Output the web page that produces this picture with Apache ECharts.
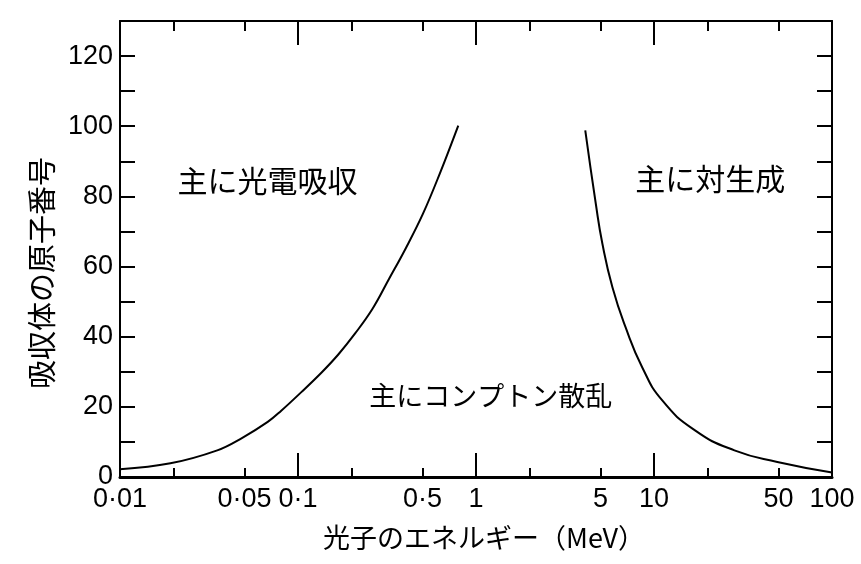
<!DOCTYPE html>
<html>
<head>
<meta charset="utf-8">
<script src="https://cdn.jsdelivr.net/npm/echarts@6/dist/echarts.min.js"></script>
<style>
html,body{margin:0;padding:0;background:#fff;}
#chart{width:861px;height:564px;}
</style>
</head>
<body>
<div id="chart"></div>
<script>
// ---- data ----
const photoComptonE = [0.01, 0.0192, 0.0352, 0.0484, 0.0676, 0.0805, 0.1044, 0.1357, 0.1689, 0.2099, 0.2612, 0.325, 0.404, 0.503, 0.626, 0.795];
const photoComptonZ = [2.2, 3.9, 7.6, 11.1, 15.7, 18.9, 24.2, 29.8, 35.0, 41.0, 47.8, 56.5, 65.3, 75.0, 86.5, 100.2];
const comptonPairE = [4.11, 4.71, 5.13, 5.84, 6.92, 8.58, 11.1, 17.0, 28.3, 49.3, 100];
const comptonPairZ = [98.8, 77.9, 66.5, 54.1, 42.7, 31.3, 21.9, 13.3, 7.6, 4.3, 1.3];
const xTickValues = [0.01, 0.05, 0.1, 0.5, 1, 5, 10, 50, 100];
const xTickLabels = ['0·01', '0·05', '0·1', '0·5', '1', '5', '10', '50', '100'];
const xMajorTicks = [0.01, 0.1, 1, 10, 100];
const xMinorTicks = [0.02, 0.05, 0.2, 0.5, 2, 5, 20, 50];
const regionNames = ['主に光電吸収', '主にコンプトン散乱', '主に対生成'];
const regionE = [0.0675, 1.21, 20.7];
const regionZ = [84.5, 23.3, 85.1];
const xName = '光子のエネルギー（MeV）';
const yName = '吸収体の原子番号';

// ---- chart ----
const numFont = "'Liberation Sans Narrow', 'Liberation Sans', Arial, sans-serif";
const cjkFont = "'Noto Sans CJK JP', sans-serif";
const black = '#000';
const lg = v => Math.log10(v);

function decoAxis(pos, ticks, len, withLabels, lineW) {
  return {
    type: 'value', min: -2, max: 2, position: pos, gridIndex: 0,
    axisLine: { show: lineW > 0, onZero: false, lineStyle: { color: black, width: lineW } },
    axisTick: { show: true, inside: true, length: len, customValues: ticks.map(lg), lineStyle: { color: black, width: 2 } },
    axisLabel: withLabels ? {
      show: true, customValues: xTickValues.map(lg), margin: 9,
      fontFamily: numFont, fontSize: 27, color: black,
      formatter: function (v) {
        for (let i = 0; i < xTickValues.length; i++) {
          if (Math.abs(lg(xTickValues[i]) - v) < 1e-6) return xTickLabels[i];
        }
        return '';
      }
    } : { show: false },
    splitLine: { show: false }
  };
}

const chart = echarts.init(document.getElementById('chart'), null, { renderer: 'canvas' });
chart.setOption({
  animation: false,
  backgroundColor: '#fff',
  grid: { left: 120, right: 29, top: 21, bottom: 87, containLabel: false, outerBoundsMode: 'none' },
  xAxis: [
    {
      type: 'log', logBase: 10, min: 0.01, max: 100, position: 'bottom',
      axisLine: { show: true, onZero: false, lineStyle: { color: black, width: 3 } },
      axisTick: { show: false }, axisLabel: { show: false }, splitLine: { show: false },
      name: xName, nameLocation: 'middle', nameGap: 47,
      nameTextStyle: { fontFamily: cjkFont, fontSize: 27, color: black, padding: [0, 0, 0, 16] }
    },
    decoAxis('bottom', xMajorTicks, 24, true, 0),
    decoAxis('bottom', xMinorTicks, 9, false, 0),
    decoAxis('top', xMajorTicks, 24, false, 2),
    decoAxis('top', xMinorTicks, 10, false, 0)
  ],
  yAxis: [
    {
      type: 'value', min: 0, max: 130, interval: 10, position: 'left',
      axisLine: { show: true, onZero: false, lineStyle: { color: black, width: 2 } },
      axisTick: { show: true, inside: true, length: 15, lineStyle: { color: black, width: 2 } },
      axisLabel: {
        margin: 7, fontFamily: numFont, fontSize: 27, color: black,
        formatter: v => (v % 20 === 0 && v <= 120) ? String(v) : ''
      },
      splitLine: { show: false },
      name: yName, nameLocation: 'middle', nameGap: 64, nameRotate: 90,
      nameTextStyle: { fontFamily: cjkFont, fontSize: 29, color: black, padding: [0, 48, 0, 0] }
    },
    {
      type: 'value', min: 0, max: 130, interval: 10, position: 'right',
      axisLine: { show: true, onZero: false, lineStyle: { color: black, width: 2 } },
      axisTick: { show: true, inside: true, length: 15, lineStyle: { color: black, width: 2 } },
      axisLabel: { show: false }, splitLine: { show: false }
    }
  ],
  series: [
    {
      type: 'line', xAxisIndex: 0, yAxisIndex: 0, smooth: 0.4, showSymbol: false,
      lineStyle: { color: black, width: 2 },
      data: photoComptonE.map((e, i) => [e, photoComptonZ[i]])
    },
    {
      type: 'line', xAxisIndex: 0, yAxisIndex: 0, smooth: 0.5, showSymbol: false,
      lineStyle: { color: black, width: 2 },
      data: comptonPairE.map((e, i) => [e, comptonPairZ[i]])
    },
    {
      type: 'scatter', xAxisIndex: 0, yAxisIndex: 0, symbolSize: 0,
      itemStyle: { opacity: 1 },
      label: { show: true, position: 'inside', formatter: '{b}', fontFamily: cjkFont, fontSize: 30, color: black, opacity: 1, textBorderWidth: 0 },
      data: regionNames.map((n, i) => ({ name: n, value: [regionE[i], regionZ[i]], label: i === 1 ? { fontSize: 27 } : {} }))
    }
  ]
});
</script>
</body>
</html>
